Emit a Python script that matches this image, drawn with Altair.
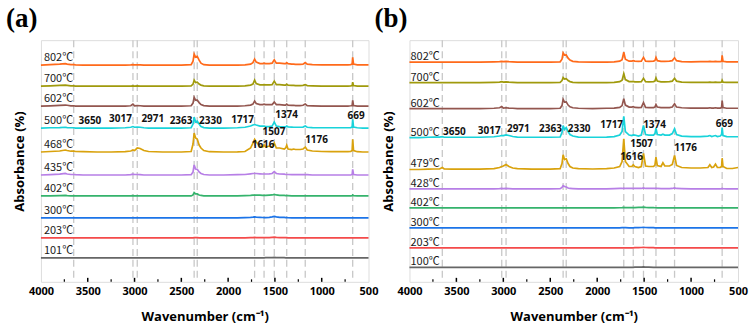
import altair as alt
import pandas as pd

# ---------------- data ----------------
WN = [4000, 3900, 3800, 3740, 3720, 3680, 3650, 3630, 3550, 3400,
      3250, 3100, 3040, 3017, 3000, 2971, 2940, 2900, 2850, 2700,
      2500, 2395, 2375, 2363, 2348, 2330, 2310, 2290, 2260, 2200,
      2050, 1900, 1820, 1760, 1735, 1717, 1700, 1660, 1630, 1616,
      1600, 1560, 1530, 1507, 1485, 1450, 1400, 1385, 1374, 1360,
      1320, 1300, 1280, 1230, 1200, 1176, 1155, 1100, 1000, 900,
      820, 800, 780, 760, 740, 720, 690, 675, 669, 660,
      620, 560, 500]

# panel (a)
A_TEMPS = ["802℃", "700℃", "602℃", "500℃", "468℃", "435℃", "402℃", "300℃", "203℃", "101℃"]
A_OFFSETS = [217, 196, 176, 154, 130, 107, 86, 64, 44, 24]

A802 = [0, 0.5, 1, 1.5, 1, 0.5, 0.5, 0.3, 0, 0,
        0, 0, 0.3, 0.5, 0.3, 0.3, 0.3, 0, 0, 0,
        0, 0.5, 4, 11, 8, 8.7, 5, 2, 0.5, 0,
        0, 0, 0.3, 1, 2.5, 6, 3, 1.5, 1.5, 2,
        1.5, 1.5, 2, 5.3, 2, 2, 1.5, 1.5, 2.5, 1.5,
        1, 1, 0.8, 0.8, 1, 2.5, 1, 0.5, 0.3, 0.3,
        0.3, 0.3, 0.3, 0.3, 0.3, 0.3, 0.5, 1, 7.7, 1,
        0.3, 0.3, 0.3]
A700 = [0, 0.3, 0.8, 1, 0.8, 0.3, 0.3, 0, 0, 0,
        0, 0, 0, 0.3, 0, 0.3, 0, 0, 0, 0,
        0, 0.3, 2, 6, 3.5, 4, 2, 1, 0.3, 0,
        0, 0, 0.3, 1, 2, 6, 2.5, 1.2, 1.2, 1.5,
        1.2, 1.2, 1.5, 5, 1.5, 1.5, 1, 1, 2, 1,
        0.8, 0.8, 0.5, 0.5, 0.8, 1.5, 0.5, 0.3, 0, 0,
        0, 0, 0, 0, 0, 0, 0.3, 0.5, 4, 0.5,
        0, 0, 0]
A602 = [0, 0.3, 0.8, 1, 0.8, 0.3, 0.3, 0, 0, 0,
        0, 0, 0.3, 2, 0.3, 0.5, 0.3, 0, 0, 0,
        0, 0.3, 3, 8.7, 6, 6, 3.5, 1.5, 0.5, 0,
        0, 0, 0.3, 1, 2, 5, 2.5, 1.5, 1.5, 2,
        1.5, 1.5, 1.5, 4, 1.5, 1.5, 1, 1, 2, 1,
        0.8, 0.8, 0.5, 0.5, 0.8, 2, 0.5, 0.3, 0, 0,
        0, 0, 0, 0, 0, 0, 0.3, 0.5, 5.7, 0.5,
        0, 0, 0]
A500 = [0, 0.3, 0.5, 0.8, 0.5, 0.3, 0.3, 0, 0, 0,
        0, 0.3, 0.8, 1.5, 0.8, 1, 0.8, 0.3, 0, 0,
        0, 0.3, 4, 11, 6, 7, 4, 1.5, 0.5, 0,
        0, 0.3, 0.8, 2, 3, 3.5, 3, 2, 2, 2,
        1.5, 1.5, 2, 6, 2, 1.5, 1.2, 1.2, 2, 1.2,
        1, 0.8, 0.8, 0.8, 1, 2, 0.8, 0.5, 0.3, 0.3,
        0.3, 0.3, 0.3, 0.3, 0.3, 0.3, 0.5, 1, 8.7, 1,
        0.3, 0, 0]
A468 = [0, 0.5, 1, 2, 1.5, 0.8, 1, 0.5, 0.3, 0,
        0, 0.3, 1, 2, 1.5, 4, 3.5, 1.5, 0.5, 0,
        0, 0.5, 8, 19, 14, 13, 7, 4, 1.5, 0.3,
        0, 0.2, 0.5, 4, 9, 12.7, 10, 6, 5, 7,
        5, 6, 5, 9, 4, 4, 3, 4, 6.7, 3,
        2.5, 3, 2.5, 2.5, 3, 5, 2, 1, 0.5, 0.3,
        0.3, 0.3, 0.3, 0.3, 0.3, 0.3, 0.5, 1.5, 12.7, 1.5,
        0.3, 0, 0]
A435 = [0, 0.3, 0.8, 1.5, 1, 0.5, 0.5, 0.3, 0, 0,
        0, 0, 0.3, 0.8, 0.5, 0.5, 0.3, 0, 0, 0,
        0, 0.3, 3, 10, 6, 5.7, 3, 1.5, 0.5, 0,
        0, 0.3, 0.5, 1.2, 1.5, 1.5, 1.5, 1.2, 1, 1,
        1, 1.2, 1.5, 3.3, 1.5, 1, 0.8, 0.5, 0.5, 0.5,
        0.3, 0.3, 0.3, 0.3, 0.3, 0.3, 0.3, 0, 0, 0,
        0, 0, 0, 0, 0, 0, 0, 0.5, 5.7, 0.5,
        0, 0, 0]
A402 = [0, 0, 0.3, 0.5, 0.3, 0, 0, 0, 0, 0,
        0, 0, 0, 0.3, 0, 0, 0, 0, 0, 0,
        0, 0, 1, 3.3, 2, 2, 1, 0.5, 0, 0,
        0, 0, 0.3, 0.5, 0.8, 0.8, 0.8, 0.8, 0.5, 0.5,
        0.5, 0.8, 1, 1.5, 1, 0.5, 0.5, 0.3, 0.3, 0.3,
        0, 0, 0, 0, 0, 0, 0, 0, 0, 0,
        0, 0, 0, 0, 0, 0, 0, 0.3, 1, 0.3,
        0, 0, 0]
A300 = [0, 0, 0, 0, 0, 0, 0, 0, 0, 0,
        0, 0, 0, 0, 0, 0, 0, 0, 0, 0,
        0, 0, 0, 0, 0, 0, 0, 0, 0, 0,
        0, 0, 0.3, 0.6, 0.8, 1, 0.8, 0.6, 0.4, 0.3,
        0.3, 0.6, 1, 1.5, 1, 0.6, 0.5, 0.3, 0.3, 0.2,
        0, 0, 0, 0, 0, 0, 0, 0, 0, 0,
        0, 0, 0, 0, 0, 0, 0, 0, 0, 0,
        0, 0, 0]
A203 = [0, 0, 0, 0, 0, 0, 0, 0, 0, 0,
        0, 0, 0, 0, 0, 0, 0, 0, 0, 0,
        0, 0, 0, 0.3, 0.2, 0.2, 0, 0, 0, 0,
        0, 0, 0, 0.2, 0.3, 0.5, 0.3, 0.3, 0.3, 0.3,
        0.3, 0.3, 0.5, 0.7, 0.5, 0.3, 0.3, 0.2, 0.2, 0,
        0, 0, 0, 0, 0, 0, 0, 0, 0, 0,
        0, 0, 0, 0, 0, 0, 0, 0, 0, 0,
        0, 0, 0]
A101 = [0, 0, 0, 0, 0, 0, 0, 0, 0, 0,
        0, 0, 0, 0, 0, 0, 0, 0, 0, 0,
        0, 0, 0, 0, 0, 0, 0, 0, 0, 0,
        0, 0, 0, 0, 0, 0, 0, 0, 0, 0,
        0.2, 0.2, 0.3, 0.4, 0.3, 0.2, 0.2, 0, 0, 0,
        0, 0, 0, 0, 0, 0, 0, 0, 0, 0,
        0, 0, 0, 0, 0, 0, 0, 0, 0, 0,
        0, 0, 0]

# panel (b)
B_TEMPS = ["802℃", "700℃", "602℃", "500℃", "479℃", "428℃", "402℃", "300℃", "203℃", "100℃"]
B_OFFSETS = [220, 199.5, 173.5, 144.5, 112.5, 93, 74, 54, 34, 14.5]

B802 = [0, 0, 0, 0, 0, 0, 0, 0, 0, 0,
        0, 0.3, 0.5, 0.8, 0.5, 0.8, 0.5, 0.3, 0, 0,
        0, 0.3, 3, 9.3, 7, 7.3, 4, 2, 0.8, 0.3,
        0, 0, 0.3, 1, 2.5, 10, 3, 1, 1, 1.5,
        1, 0.8, 1, 4.7, 1, 0.8, 1, 1.5, 4.7, 1.5,
        0.8, 0.8, 0.8, 1, 1.5, 4.3, 1.5, 0.5, 0.3, 0.5,
        0.5, 0.8, 0.5, 0.5, 0.8, 0.5, 0.5, 0.8, 6.7, 0.8,
        0.3, 0.3, 0.3]
B700 = [0, 0, 0, 0, 0, 0, 0, 0, 0, 0,
        0, 0.3, 0.5, 1, 0.5, 0.8, 0.5, 0.3, 0, 0,
        0, 0.3, 2, 5, 3.5, 4, 2, 1, 0.3, 0,
        0, 0, 0.3, 1, 2.5, 9, 3, 1, 1, 1.2,
        0.8, 0.8, 1, 4.3, 1, 0.8, 1, 1.5, 4.7, 1.5,
        0.8, 0.8, 0.8, 1, 1.5, 4.3, 1.5, 0.5, 0.3, 0.3,
        0.3, 0.5, 0.3, 0.3, 0.5, 0.3, 0.3, 0.5, 2.3, 0.5,
        0.3, 0.3, 0.3]
B602 = [0, 0, 0, 0, 0, 0, 0, 0, 0, 0,
        0, 0.3, 0.8, 2, 0.5, 0.8, 0.5, 0.3, 0, 0,
        0, 0.3, 3, 9.3, 6.5, 6.7, 3.5, 1.8, 0.8, 0.3,
        0, 0.3, 0.5, 1.2, 3, 10, 3.5, 1.5, 1.5, 2,
        1.2, 1, 1.2, 6, 1.2, 1, 1, 1.5, 4, 1.5,
        1, 1, 1, 1, 1.5, 4.7, 1.5, 0.8, 0.5, 0.5,
        0.5, 0.8, 0.5, 0.5, 0.8, 0.5, 0.5, 1, 8, 1,
        0.3, 0.3, 0.3]
B500 = [0, 0, 0.3, 0.5, 0.5, 0.5, 0.8, 0.3, 0.3, 0.3,
        0.3, 0.8, 1.5, 2, 2, 2.7, 2, 1, 0.5, 0.3,
        0.3, 0.5, 5, 12, 8, 10, 6, 3, 1.5, 0.5,
        0.3, 0.5, 1, 2.5, 6, 21.3, 6, 2.5, 2, 2.7,
        2.5, 1.5, 2.5, 12, 3, 2.5, 2.5, 4, 9.3, 3,
        2.5, 3.3, 2.5, 2.5, 4, 8.7, 3, 1.5, 1, 1,
        1.5, 2, 1, 1.5, 2, 1, 1.5, 3, 10, 2,
        1, 0.8, 0.8]
B479 = [0, 0, 0.3, 0.5, 0.5, 0.5, 2, 0.5, 0.3, 0.3,
        0.3, 0.8, 2, 3, 3.5, 5, 3, 1.5, 0.8, 0.3,
        0.3, 0.8, 6, 14.7, 10, 10.7, 6, 3, 1.5, 0.8,
        0.5, 0.8, 1.5, 3, 8, 30.7, 8, 3, 3, 4.7,
        3, 2, 3, 16, 3.5, 3, 3, 4.5, 12.3, 4,
        3, 6.7, 3.5, 3.5, 5, 14, 4, 2, 1.5, 1.5,
        2, 4.7, 2, 2.5, 5.3, 2, 2, 3, 11.3, 3,
        1, 1, 2]
B428 = [0, 0, 0, 0, 0, 0, 0, 0, 0, 0,
        0, 0, 0.3, 0.5, 0.3, 0.5, 0.3, 0, 0, 0,
        0, 0.3, 1.5, 3.3, 2.5, 2, 1, 0.5, 0.3, 0,
        0, 0, 0.3, 0.5, 0.5, 0.8, 0.5, 0.5, 0.5, 0.5,
        0.5, 0.5, 0.5, 1, 0.5, 0.5, 0.5, 0.5, 0.8, 0.5,
        0.3, 0.3, 0.3, 0.3, 0.5, 1, 0.5, 0.3, 0, 0,
        0, 0, 0, 0, 0, 0, 0, 0.3, 0.5, 0.3,
        0, 0, 0]
B402 = [0, 0, 0, 0, 0, 0, 0, 0, 0, 0,
        0, 0, 0, 0, 0, 0, 0, 0, 0, 0,
        0, 0, 0, 0, 0, 0, 0, 0, 0, 0,
        0, 0, 0, 0.2, 0.3, 0.5, 0.4, 0.3, 0.3, 0.3,
        0.3, 0.5, 0.6, 0.8, 0.6, 0.4, 0.3, 0.2, 0.2, 0,
        0, 0, 0, 0, 0, 0, 0, 0, 0, 0,
        0, 0, 0, 0, 0, 0, 0, 0, 0, 0,
        0, 0, 0]
B300 = [0, 0, 0, 0, 0, 0, 0, 0, 0, 0,
        0, 0, 0, 0, 0, 0, 0, 0, 0, 0,
        0, 0, 0, 0, 0, 0, 0, 0, 0, 0,
        0, 0, 0, 0, 0.2, 0.3, 0.2, 0, 0, 0,
        0.2, 0.3, 0.4, 0.5, 0.4, 0.3, 0.2, 0, 0, 0,
        0, 0, 0, 0, 0, 0, 0, 0, 0, 0,
        0, 0, 0, 0, 0, 0, 0, 0, 0, 0,
        0, 0, 0]
B203 = [0, 0, 0, 0, 0, 0, 0, 0, 0, 0,
        0, 0, 0, 0, 0, 0, 0, 0, 0, 0,
        0, 0, 0, 0, 0, 0, 0, 0, 0, 0,
        0, 0, 0, 0, 0, 0, 0, 0, 0, 0,
        0.2, 0.3, 0.4, 0.6, 0.4, 0.3, 0.2, 0, 0, 0,
        0, 0, 0, 0, 0, 0, 0, 0, 0, 0,
        0, 0, 0, 0, 0, 0, 0, 0, 0, 0,
        0, 0, 0]
B100 = [0, 0, 0, 0, 0, 0, 0, 0, 0, 0,
        0, 0, 0, 0, 0, 0, 0, 0, 0, 0,
        0, 0, 0, 0, 0, 0, 0, 0, 0, 0,
        0, 0, 0, 0, 0, 0, 0, 0, 0, 0,
        0.2, 0.2, 0.3, 0.4, 0.3, 0.2, 0, 0, 0, 0,
        0, 0, 0, 0, 0, 0, 0, 0, 0, 0,
        0, 0, 0, 0, 0, 0, 0, 0, 0, 0,
        0, 0, 0]

COLORS = ["#ff6a1a", "#a09a0c", "#93564f", "#19d3da", "#d9a20d",
          "#b77fe6", "#35b36c", "#1c74e8", "#f44a4a", "#666666"]

DASH_WN = [3650, 3017, 2971, 2363, 2330, 1717, 1616, 1507, 1374, 1176, 669]
MAJOR_TICKS = [3500, 3000, 2500, 2000, 1500, 1000]
MINOR_TICKS = [3750, 3250, 2750, 2250, 1750, 1250, 750]
X_LABELS = [4000, 3500, 3000, 2500, 2000, 1500, 1000, 500]

PEAK_TEXT = ["3650", "3017", "2971", "2363", "2330", "1717", "1374", "669", "1507", "1616", "1176"]
A_PEAK_WN = [3477, 3150, 2805, 2503, 2189, 1845, 1375, 633, 1510, 1626, 1055]
A_PEAK_V = [161, 163, 163, 161, 161, 162, 167, 166, 150, 137, 142]
B_PEAK_WN = [3521, 3150, 2840, 2498, 2192, 1846, 1389, 646, 1527, 1634, 1059]
B_PEAK_V = [150, 151, 153, 153, 153, 157, 157, 158, 138, 125, 134]

A_SERIES = [A802, A700, A602, A500, A468, A435, A402, A300, A203, A101]
B_SERIES = [B802, B700, B602, B500, B479, B428, B402, B300, B203, B100]

H = 242
FONT = "Open Sans"


def panel(letter, temps, offsets, series, peak_wn, peak_v, width, label_dy, label_x):
    rows = []
    for t, off, vals, c in zip(temps, offsets, series, COLORS):
        assert len(vals) == len(WN), (letter, t, len(vals))
        for w, v in zip(WN, vals):
            rows.append({"wn": w, "y": off + v, "s": t, "c": c})
    df = pd.DataFrame(rows)

    xs = alt.Scale(domain=[4000, 500], nice=False, zero=False)
    ys = alt.Scale(domain=[0, H], nice=False, zero=False)
    xax = alt.Axis(
        values=X_LABELS, format="d", title="Wavenumber (cm⁻¹)",
        ticks=False, domain=False, grid=False, labelPadding=4,
        labelFont=FONT, labelFontSize=11, labelFontWeight="bold", labelColor="black",
        titleFont=FONT, titleFontSize=13, titleFontWeight="bold", titleColor="black",
        titlePadding=14, labelFlush=False)
    yax = alt.Axis(
        labels=False, ticks=False, domain=False, grid=False,
        title="Absorbance (%)", titleFont=FONT, titleFontSize=13,
        titleFontWeight="bold", titleColor="black", titlePadding=14)

    X = lambda f: alt.X(f, scale=xs, axis=xax, title="Wavenumber (cm⁻¹)")
    Y = lambda f: alt.Y(f, scale=ys, axis=yax, title="Absorbance (%)")

    dashes = alt.Chart(pd.DataFrame({"wn": DASH_WN})).mark_rule(
        color="#c8c8c8", strokeWidth=1.3, strokeDash=[7, 4]
    ).encode(x=X("wn:Q"))

    lines = alt.Chart(df).mark_line(strokeWidth=1.7).encode(
        x=X("wn:Q"),
        y=Y("y:Q"),
        color=alt.Color("c:N", scale=None),
        detail="s:N",
    )

    major = alt.Chart(pd.DataFrame({"wn": MAJOR_TICKS})).mark_rule(
        color="black", strokeWidth=1.5
    ).encode(x=X("wn:Q"), y=alt.value(H), y2=alt.value(H - 4))
    minor = alt.Chart(pd.DataFrame({"wn": MINOR_TICKS})).mark_rule(
        color="black", strokeWidth=1.2
    ).encode(x=X("wn:Q"), y=alt.value(H), y2=alt.value(H - 2.5))

    tdf = pd.DataFrame({"t": temps, "y": [o + label_dy for o in offsets]})
    tlabels = alt.Chart(tdf).mark_text(
        align="left", baseline="middle", font="Noto Sans CJK SC", fontSize=11, color="#1a1a1a"
    ).encode(x=alt.value(label_x), y=Y("y:Q"), text="t:N")

    pdf = pd.DataFrame({"t": PEAK_TEXT, "wn": peak_wn, "v": peak_v})
    plabels = alt.Chart(pdf).mark_text(
        align="center", baseline="middle", font=FONT, fontSize=10, fontWeight="bold", color="#111111"
    ).encode(x=X("wn:Q"), y=Y("v:Q"), text="t:N")

    ldf = pd.DataFrame({"t": [letter]})
    let = alt.Chart(ldf).mark_text(
        align="left", baseline="alphabetic", font="Liberation Serif", fontSize=27,
        fontWeight="bold", color="black"
    ).encode(x=alt.value(-35), y=alt.value(-13), text="t:N")

    return alt.layer(dashes, lines, major, minor, tlabels, plabels, let).properties(
        width=width, height=H)


pa = panel("(a)", A_TEMPS, A_OFFSETS, A_SERIES, A_PEAK_WN, A_PEAK_V, 328, 7, 3)
pb = panel("(b)", B_TEMPS, B_OFFSETS, B_SERIES, B_PEAK_WN, B_PEAK_V, 329, 5, 1)

chart = alt.hconcat(pa, pb, spacing=41, bounds="flush").properties(
    padding={"left": 5, "top": 4, "right": 2, "bottom": 2}
).configure_view(stroke="black", strokeWidth=1.8).configure(background="white")

chart.save("out.html", embed_options={"renderer": "svg", "actions": False})
